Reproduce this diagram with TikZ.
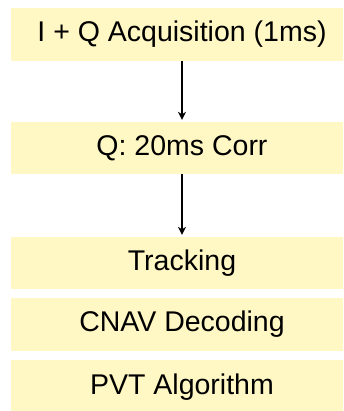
\documentclass[tikz,border=0pt]{standalone}
\usepackage{fontspec}
\setmainfont{Liberation Sans}
\usetikzlibrary{arrows.meta}
\definecolor{boxfill}{RGB}{255,248,196}
\begin{document}
\begin{tikzpicture}[x=1pt,y=-1pt,
  stagebox/.style={fill=boxfill,draw=none,inner sep=0pt,minimum width=342pt,font=\fontsize{28.5}{32}\selectfont},
  flow/.style={draw=black,line width=1.2pt,-{Stealth[length=8pt,width=8pt]}}]
\useasboundingbox (0,0) rectangle (343,411);
\begin{scope}
\clip (0,0) rectangle (343,411);
\node[stagebox,minimum height=53pt] (acq) at (182,34.5) {I + Q Acquisition (1ms)};
\node[stagebox,minimum height=52pt] (corr) at (182,148) {Q: 20ms Corr};
\node[stagebox,minimum height=52pt] (trk) at (182,263) {Tracking};
\node[stagebox,minimum height=53pt] (cnav) at (182,324.5) {CNAV Decoding};
\node[stagebox,minimum height=55pt] (pvt) at (182,387.5) {PVT Algorithm};
\end{scope}
\draw[flow] (acq.south) -- ([yshift=2pt]corr.north);
\draw[flow] (corr.south) -- ([yshift=2pt]trk.north);
\end{tikzpicture}
\end{document}
